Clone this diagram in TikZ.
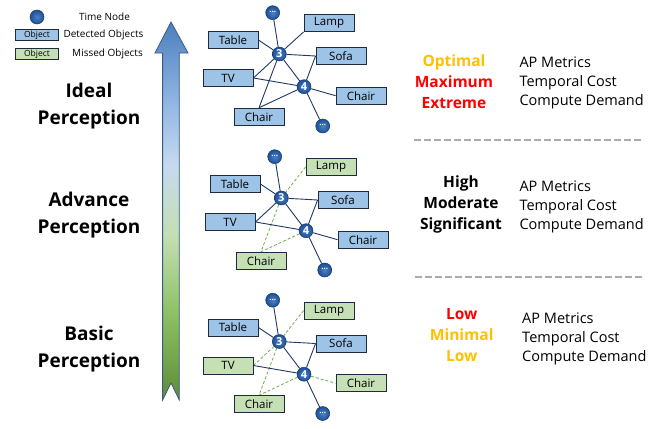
\documentclass[tikz,border=0pt]{standalone}
\usepackage{fontspec}
\setmainfont{Open Sans}
\usetikzlibrary{calc}
\pgfdeclarelayer{background}
\pgfsetlayers{background,main}

\definecolor{detfill}{HTML}{9DC3E6}
\definecolor{missfill}{HTML}{C5E0B4}
\definecolor{boxline}{HTML}{1F2A3C}
\definecolor{linkc}{HTML}{1F3864}
\definecolor{missc}{HTML}{70AD47}
\definecolor{ballin}{HTML}{4A82CC}
\definecolor{ballout}{HTML}{1E4F92}
\definecolor{ballrim}{HTML}{173A6B}
\definecolor{optorange}{HTML}{FFC000}
\definecolor{optred}{HTML}{FF0000}
\definecolor{sepgray}{HTML}{ABABAB}
\definecolor{arrowrim}{HTML}{3A5A86}

\tikzset{
  objbox/.style={draw=boxline, line width=0.9pt, minimum width=50pt,
    minimum height=17pt, inner sep=0pt, font=\fontsize{11.5}{12}\selectfont},
  det/.style={objbox, fill=detfill},
  miss/.style={objbox, fill=missfill},
  tnode/.style={circle, inner sep=0pt, minimum size=14pt, draw=ballrim,
    line width=0.5pt, inner color=ballin, outer color=ballout, text=white,
    font=\bfseries\fontsize{11}{11}\selectfont},
  link/.style={draw=linkc, line width=0.9pt},
  misslink/.style={draw=missc, line width=0.8pt, dash pattern=on 3pt off 2pt},
  level/.style={font=\bfseries\fontsize{19}{26.5}\selectfont, align=center},
  grade/.style={font=\bfseries\fontsize{15.5}{21}\selectfont, align=center},
  metric/.style={font=\fontsize{14.5}{19}\selectfont, align=left, anchor=west},
  legtext/.style={font=\fontsize{10}{10}\selectfont},
  legbox/.style={draw=boxline, line width=0.8pt, minimum width=43pt,
    minimum height=10.5pt, inner sep=0pt, font=\fontsize{8.5}{8.5}\selectfont},
  sep/.style={draw=sepgray, line width=2.2pt, dash pattern=on 7pt off 3pt}
}

% white "more" marker for the open ends of the chain
\newcommand\moremark{\raisebox{1.5pt}{\fontsize{8}{8}\selectfont\bfseries...}}

% one scene graph: #1 name prefix, #2 lamp, #3 TV, #4 right chair, #5 lower chair
\newcommand\placegraph[5]{%
  \node[tnode] (#1top) at (272.7,12.7) {\moremark};
  \node[#2] (#1lamp) at (329,23) {Lamp};
  \node[det] (#1table) at (233,40) {Table};
  \node[tnode] (#1three) at (279.3,54) {3};
  \node[det] (#1sofa) at (341,56) {Sofa};
  \node[#3] (#1tv) at (228,78) {TV};
  \node[tnode] (#1four) at (304,86.7) {4};
  \node[#4] (#1chairR) at (361,95.7) {Chair};
  \node[#5] (#1chairB) at (259,116.7) {Chair};
  \node[tnode] (#1bot) at (322.7,126) {\moremark};
}

\begin{document}
\begin{tikzpicture}[x=1pt, y=-1pt]
\useasboundingbox (0,0) rectangle (668,428);

% legend
\node[tnode] (legnode) at (37,17) {};
\node[legtext] (legnodetxt) at (104.5,16.7) {Time Node};
\node[legbox, fill=detfill] (legdet) at (37,35) {Object};
\node[legtext, anchor=west] (legdettxt) at (60,35) {Detected Objects};
\node[legbox, fill=missfill] (legmiss) at (37,53.8) {Object};
\node[legtext] (legmisstxt) at (107.5,54.3) {Missed Objects};

% progression arrow with a colour ramp from green to blue
\begin{scope}
  \clip (171,22) -- (188,53) -- (179.3,53) -- (179.3,400) -- (171,383)
        -- (162.6,400) -- (162.6,53) -- (155,53) -- cycle;
  \shade[top color={rgb,255:red,74;green,126;blue,187}, bottom color={rgb,255:red,143;green,180;blue,227}]
    (150,20) rectangle (190,100);
  \shade[top color={rgb,255:red,143;green,180;blue,227}, bottom color={rgb,255:red,198;green,217;blue,239}]
    (150,99.5) rectangle (190,165);
  \shade[top color={rgb,255:red,198;green,217;blue,239}, bottom color={rgb,255:red,196;green,223;blue,179}]
    (150,164.5) rectangle (190,235);
  \shade[top color={rgb,255:red,196;green,223;blue,179}, bottom color={rgb,255:red,140;green,192;blue,99}]
    (150,234.5) rectangle (190,315);
  \shade[top color={rgb,255:red,140;green,192;blue,99}, bottom color={rgb,255:red,92;green,140;blue,54}]
    (150,314.5) rectangle (190,402);
\end{scope}
\draw[arrowrim, line width=0.8pt, line join=miter]
  (171,22) -- (188,53) -- (179.3,53) -- (179.3,400) -- (171,383)
  -- (162.6,400) -- (162.6,53) -- (155,53) -- cycle;

% perception levels
\node[level] (ideal) at (89,106) {Ideal\\Perception};
\node[level] (advance) at (89,215) {Advance\\Perception};
\node[level] (basic) at (89,349) {Basic\\Perception};

% ideal perception: every object detected
\placegraph{a}{det}{det}{det}{det}
\begin{pgfonlayer}{background}
  \draw[link] (atop) -- (athree);
  \draw[link] (alamp.south west) -- (athree);
  \draw[link] (atable.east) -- (athree);
  \draw[link] (athree) -- (asofa.west);
  \draw[link] (athree) -- (afour);
  \draw[link] (athree) -- (atv.east);
  \draw[link] (athree) -- (achairB.north);
  \draw[link] (atv.east) -- (afour);
  \draw[link] (afour) -- (asofa.west);
  \draw[link] (afour) -- (achairR.west);
  \draw[link] (afour) -- (achairB.north);
  \draw[link] (afour) -- (abot);
\end{pgfonlayer}

% advance perception: lamp and lower chair missed
\begin{scope}[shift={(2,144)}]
\placegraph{b}{miss}{det}{det}{miss}
\end{scope}
\begin{pgfonlayer}{background}
  \draw[link] (btop) -- (bthree);
  \draw[misslink] (blamp.west) -- (bthree);
  \draw[link] (btable.east) -- (bthree);
  \draw[link] (bthree) -- (bsofa.west);
  \draw[link] (bthree) -- (bfour);
  \draw[link] (bthree) -- (btv.east);
  \draw[misslink] (bthree) -- (bchairB.north);
  \draw[link] (btv.east) -- (bfour);
  \draw[link] (bfour) -- (bsofa.west);
  \draw[link] (bfour) -- (bchairR.west);
  \draw[misslink] (bfour) -- (bchairB.north);
  \draw[link] (bfour) -- (bbot);
\end{pgfonlayer}

% basic perception: lamp, TV and both chairs missed
\begin{scope}[shift={(0,287.5)}]
\placegraph{c}{miss}{miss}{miss}{miss}
\end{scope}
\begin{pgfonlayer}{background}
  \draw[link] (ctop) -- (cthree);
  \draw[misslink] (clamp.west) -- (cthree);
  \draw[link] (ctable.east) -- (cthree);
  \draw[link] (cthree) -- (csofa.west);
  \draw[link] (cthree) -- (cfour);
  \draw[misslink] (cthree) -- (ctv.east);
  \draw[misslink] (cthree) -- (cchairB.north);
  \draw[link] (ctv.east) -- (cfour);
  \draw[link] (cfour) -- (csofa.west);
  \draw[misslink] (cfour) -- (cchairR.west);
  \draw[misslink] (cfour) -- (cchairB.north);
  \draw[link] (cfour) -- (cbot);
\end{pgfonlayer}

% grades and metrics
\node[grade] (gradeA) at (454,82) {\textcolor{optorange}{Optimal}\\\textcolor{optred}{Maximum}\\\textcolor{optred}{Extreme}};
\node[metric] (metA) at (516,82.5) {AP Metrics\\Temporal Cost\\Compute Demand};

\draw[sep] (414,140) -- (643,140);

\node[grade] (gradeB) at (461,204) {High\\Moderate\\Significant};
\node[metric] (metB) at (516,206.7) {AP Metrics\\Temporal Cost\\Compute Demand};

\draw[sep] (415,277) -- (644,277);

\node[grade] (gradeC) at (461.7,335) {\textcolor{optred}{Low}\\\textcolor{optorange}{Minimal}\\\textcolor{optorange}{Low}};
\node[metric] (metC) at (518.7,338.5) {AP Metrics\\Temporal Cost\\Compute Demand};
\end{tikzpicture}
\end{document}
